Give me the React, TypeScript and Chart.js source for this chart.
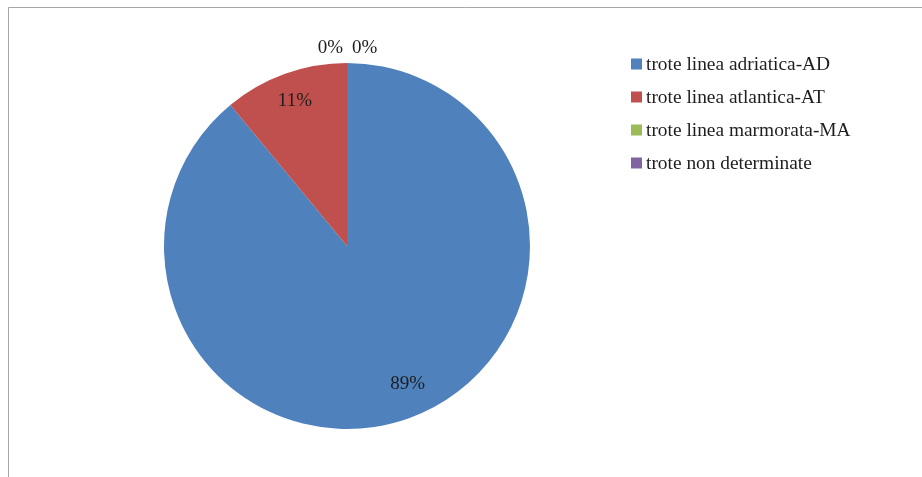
import React, { useEffect, useRef } from "react";
import { Chart, registerables } from "chart.js";

Chart.register(...registerables);

const categories = [
  "trote linea adriatica-AD",
  "trote linea atlantica-AT",
  "trote linea marmorata-MA",
  "trote non determinate",
];
const values = [89, 11, 0, 0];
const sliceColors = ["#4F81BD", "#C0504D", "#9BBB59", "#8064A2"];

const FONT = '"Liberation Serif", "Times New Roman", serif';

const framePlugin = {
  id: "frame",
  beforeDraw(chart: any) {
    const ctx = chart.ctx;
    ctx.save();
    ctx.fillStyle = "#ffffff";
    ctx.fillRect(0, 0, chart.width, chart.height);
    ctx.strokeStyle = "#a6a6a6";
    ctx.lineWidth = 1;
    ctx.beginPath();
    ctx.moveTo(8.5, chart.height);
    ctx.lineTo(8.5, 7.5);
    ctx.lineTo(chart.width, 7.5);
    ctx.stroke();
    ctx.restore();
  },
};

const labelPlugin = {
  id: "pctLabels",
  afterDatasetsDraw(chart: any) {
    const ctx = chart.ctx;
    const meta = chart.getDatasetMeta(0);
    const data = chart.data.datasets[0].data as number[];
    const total = data.reduce((a, b) => a + b, 0);
    ctx.save();
    ctx.font = `19px ${FONT}`;
    ctx.fillStyle = "#1e1e1e";
    ctx.textBaseline = "middle";
    let zeroIdx = 0;
    meta.data.forEach((arc: any, i: number) => {
      const { x, y, startAngle, endAngle, outerRadius } = arc.getProps(
        ["x", "y", "startAngle", "endAngle", "outerRadius"],
        true
      );
      const pct = Math.round((data[i] / total) * 100) + "%";
      const mid = (startAngle + endAngle) / 2;
      if (data[i] === 0) {
        const r = outerRadius + 15;
        const lx = x + Math.cos(mid) * r;
        const ly = y + Math.sin(mid) * r;
        if (zeroIdx === 0) {
          ctx.textAlign = "right";
          ctx.fillText(pct, lx - 4, ly);
        } else {
          ctx.textAlign = "left";
          ctx.fillText(pct, lx + 5, ly);
        }
        zeroIdx++;
      } else {
        const lower = mid > 0 && mid < Math.PI / 2;
        const r = outerRadius * (lower ? 0.8 : 0.84);
        ctx.textAlign = "center";
        ctx.fillText(pct, x + Math.cos(mid) * r + (lower ? 11 : 0), y + Math.sin(mid) * r);
      }
    });
    ctx.restore();
  },
};

const legendPlugin = {
  id: "customLegend",
  afterDraw(chart: any) {
    const ctx = chart.ctx;
    ctx.save();
    ctx.font = `19.4px ${FONT}`;
    ctx.textBaseline = "middle";
    ctx.textAlign = "left";
    categories.forEach((label, i) => {
      const cy = 64 + i * 33;
      ctx.fillStyle = sliceColors[i];
      ctx.fillRect(631, cy - 5.5, 11, 11);
      ctx.fillStyle = "#1e1e1e";
      ctx.fillText(label, 646, cy + 1);
    });
    ctx.restore();
  },
};

export default function App() {
  const canvasRef = useRef<HTMLCanvasElement | null>(null);

  useEffect(() => {
    if (!canvasRef.current) return;
    const chart = new Chart(canvasRef.current, {
      type: "pie",
      data: {
        labels: categories,
        datasets: [
          {
            data: values,
            backgroundColor: sliceColors,
            borderWidth: 0,
          },
        ],
      },
      options: {
        animation: false,
        responsive: false,
        layout: { padding: { left: 164, right: 392, top: 63, bottom: 48 } },
        plugins: {
          legend: { display: false },
          tooltip: { enabled: false },
        },
      },
      plugins: [framePlugin, labelPlugin, legendPlugin],
    });
    return () => chart.destroy();
  }, []);

  return (
    <div style={{ position: "absolute", left: 0, top: 0, width: 922, height: 477, overflow: "hidden" }}>
      <canvas ref={canvasRef} width={922} height={477} style={{ display: "block" }} />
    </div>
  );
}
